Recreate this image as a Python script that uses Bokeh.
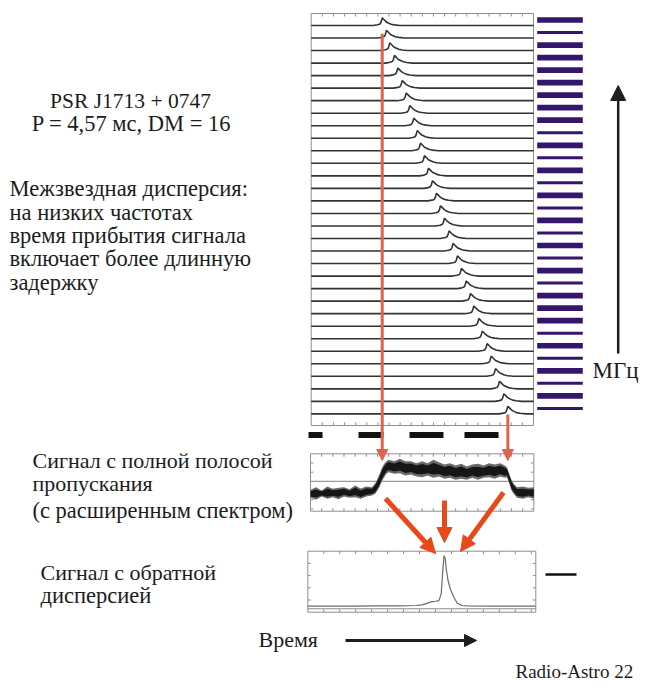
import numpy as np
from bokeh.plotting import figure
from bokeh.models import Range1d, Arrow, NormalHead
from bokeh.core.properties import value
from bokeh.embed import file_html
from bokeh.resources import INLINE

W, H = 645, 690
SERIF = value("Liberation Serif")

# ---------------- data ----------------
# Pulse arrival (phase bin, 0..200 across one period) for each of the 32 channels,
# highest frequency channel first.
peak_bin = [63.9, 67.7, 70.7, 74.9, 77.9, 81.9, 85.5, 88.7, 92.3, 95.4,
            98.3, 101.9, 105.5, 109.1, 112.7, 116.3, 119.9, 124.0, 127.6, 131.6,
            135.2, 139.5, 143.3, 146.3, 150.8, 153.9, 158.3, 161.9, 165.8, 169.4,
            173.3, 176.9]
# 1 = full channel, 0 = partly flagged channel (narrow marker)
channel_weight = [1, 0, 1, 1, 1, 1, 1, 1, 1, 0, 1, 0, 1, 0, 1, 0,
                  1, 0, 1, 0, 1, 0, 1, 1, 1, 0, 1, 0, 1, 0, 1, 0]
# Single-channel pulse template: offset from peak (bins) and amplitude (channel spacings)
pulse_offset = [-8, -4, -2, -1, 0, 1.5, 3, 4.5, 6, 8, 11, 16]
pulse_amp = [0.0, 0.06, 0.12, 0.28, 0.61, 0.48, 0.34, 0.24, 0.18, 0.10, 0.05, 0.0]

# Full-band (undedispersed) signal: noise envelope vs phase bin
band_bin = [0, 5, 10, 15, 20, 25, 30, 35, 40, 45, 50, 55, 58, 60, 62, 64, 66, 68,
            70, 75, 80, 85, 90, 95, 100, 105, 110, 115, 120, 125, 130, 135, 140,
            145, 150, 155, 160, 165, 170, 174, 176, 178, 180, 182, 185, 190, 195, 200]
band_upper = [37.2, 41.9, 36.0, 43.0, 39.0, 40.7, 41.9, 38.4, 44.8, 39.5, 43.0, 41.9,
              48.8, 56.4, 65.1, 75.5, 82.5, 87.2, 89.5, 87.2, 91.2, 87.2, 87.2, 83.7,
              87.2, 83.7, 89.5, 85.4, 81.4, 83.7, 79.6, 82.5, 77.9, 81.4, 82.5, 79.6,
              83.7, 81.4, 83.7, 79.6, 76.7, 65.1, 54.6, 47.9, 41.9, 43.0, 40.7, 41.9]
band_lower = [23.3, 19.8, 25.6, 21.5, 24.4, 21.0, 25.6, 23.3, 24.4, 21.5, 25.6, 27.3,
              30.3, 36.0, 43.0, 52.3, 59.3, 65.1, 68.0, 65.1, 66.3, 62.2, 64.0, 60.4,
              59.3, 62.2, 58.1, 60.4, 56.4, 58.1, 54.6, 56.4, 54.6, 58.1, 54.6, 58.1,
              59.3, 56.4, 60.4, 58.1, 59.3, 48.8, 36.0, 30.3, 23.3, 21.5, 24.4, 21.5]
band_ref = 52

# Dedispersed profile
profile_bin = [0, 20, 40, 60, 80, 95, 100, 104, 108, 112, 115, 117, 118.5, 119.5,
               120.5, 121.5, 123, 125, 128, 131, 135, 140, 160, 180, 200]
profile_flux = [10, 10, 10, 10.5, 10.5, 11, 12, 14, 17, 18, 19, 30, 70, 93,
                88, 70, 52, 38, 25, 15, 11, 10.5, 10, 10, 10]
profile_ref = 5.6

# ---------------- canvas ----------------
p = figure(width=W, height=H, x_range=Range1d(0, W), y_range=Range1d(H, 0),
           x_axis_type=None, y_axis_type=None, output_backend="svg",
           toolbar_location=None, min_border=0)
p.grid.visible = False
p.outline_line_color = None
p.background_fill_color = "white"


def add_panel(name, px_x, data_x, px_y, data_y):
    """Register x/y ranges so that data_x/data_y land on the given pixel spans."""
    (pa, pb), (a, b) = px_x, data_x
    sx = (b - a) / (pb - pa)
    p.extra_x_ranges[name] = Range1d(a - pa * sx, b + (W - pb) * sx)
    (qa, qb), (c, d) = px_y, data_y          # qa: lower pixel row (bottom), qb: upper
    sy = (d - c) / (qa - qb)
    p.extra_y_ranges[name] = Range1d(c - (H - qa) * sy, d + qb * sy)
    return sx, sy


FRAME = "#8f8f8f"
TRACE = "#333333"


def frame_ticks(name, x0, x1, y0, y1, xt, yt, tx, ty):
    p.quad(left=[x0], right=[x1], bottom=[y0], top=[y1], fill_color=None,
           line_color=FRAME, line_width=1, x_range_name=name, y_range_name=name)
    xs0, ys0, xs1, ys1 = [], [], [], []
    for t in xt:
        xs0 += [t, t]; xs1 += [t, t]
        ys0 += [y1, y0]; ys1 += [y1 - ty, y0 + ty]
    for t in yt:
        xs0 += [x0, x1]; xs1 += [x0 + tx, x1 - tx]
        ys0 += [t, t]; ys1 += [t, t]
    p.segment(x0=xs0, y0=ys0, x1=xs1, y1=ys1, line_color=FRAME, line_width=1,
              x_range_name=name, y_range_name=name)


# ---- waterfall of channels ----
n = len(peak_bin)
sx, sy = add_panel("wf", (310.7, 533.0), (0, 200), (413.4, 25.0), (-(n - 1), 0))
wf_top, wf_bot = 12.0 * sy, -(n - 1) - 11.6 * sy
frame_ticks("wf", 0, 200, wf_bot, wf_top, list(range(10, 200, 10)), [],
            3 * sx, 3 * sy)
xs, ys = [], []
for k, pk in enumerate(peak_bin):
    tx = [0] + [pk + o for o in pulse_offset] + [200]
    ty = [-k] + [-k + a for a in pulse_amp] + [-k]
    xs.append(tx); ys.append(ty)
p.multi_line(xs=xs, ys=ys, line_color=TRACE, line_width=1.6,
             x_range_name="wf", y_range_name="wf")

# channel markers (right side)
rows = [-k + 0.44 for k in range(n)]
heights = [(5.7 if w else 3.0) * sy for w in channel_weight]
p.hbar(y=rows, left=536.7, right=582.3, height=heights, fill_color="#34176c",
       line_color=None, y_range_name="wf")

# first / last arrival markers
RED = "#e0634b"
for k, y_start in ((0, -0.65), (n - 1, -(n - 1) - 0.05)):
    p.add_layout(Arrow(x_start=peak_bin[k], y_start=y_start, x_end=peak_bin[k],
                       y_end=-(460 - 25) * sy, line_color=RED, line_width=3,
                       end=NormalHead(size=11, fill_color=RED, line_color=RED),
                       x_range_name="wf", y_range_name="wf"))

# dashed rule below the waterfall
for a, b in ((308, 322), (358, 383), (409, 443), (464, 498)):
    p.quad(left=[a], right=[b], top=[431.5], bottom=[437.5], fill_color="#111111",
           line_color=None)

# ---- full-band signal ----
sx2, sy2 = add_panel("mid", (310.0, 533.3), (0, 200), (510.7, 453.3), (0, 100))
frame_ticks("mid", 0, 200, 0, 100, list(range(10, 200, 10)),
            [4, 20, 36, 68, 84], 3 * sx2, 3 * sy2)
p.line(x=[0, 200], y=[band_ref, band_ref], line_color="#9a9a9a", line_width=1.2,
       x_range_name="mid", y_range_name="mid")
bu, bl = np.array(band_upper), np.array(band_lower)
mid = (bu + bl) / 2
p.varea(x=band_bin, y1=band_lower, y2=band_upper, fill_color="#6a6a6a",
        x_range_name="mid", y_range_name="mid")
p.varea(x=band_bin, y1=mid - 0.32 * (bu - bl), y2=mid + 0.32 * (bu - bl),
        fill_color="#161616", x_range_name="mid", y_range_name="mid")

# ---- dedispersed profile ----
sx3, sy3 = add_panel("ded", (307.3, 535.3), (0, 200), (611.7, 550.7), (0, 100))
frame_ticks("ded", 0, 200, 0, 100, list(range(14, 200, 14)),
            [20, 40, 60, 80], 3 * sx3, 3 * sy3)
p.line(x=[0, 200], y=[profile_ref, profile_ref], line_color="#8a8a8a", line_width=1,
       x_range_name="ded", y_range_name="ded")
p.line(x=profile_bin, y=profile_flux, line_color="#6a6a6a", line_width=1.2,
       x_range_name="ded", y_range_name="ded")

# ---- arrows joining the panels ----
ORANGE = "#e8491b"
for (xa, ya, xb, yb) in ((385, 498, 435, 553), (444, 500, 444, 542), (503, 492, 460, 551)):
    p.add_layout(Arrow(x_start=xa, y_start=ya, x_end=xb, y_end=yb, line_color=ORANGE,
                       line_width=5, end=NormalHead(size=15, fill_color=ORANGE,
                                                    line_color=ORANGE)))

# frequency axis arrow and time arrow
p.add_layout(Arrow(x_start=617.7, y_start=353, x_end=617.7, y_end=85,
                   line_color="#1e1e1e", line_width=2.5,
                   end=NormalHead(size=15, fill_color="#1e1e1e", line_color="#1e1e1e")))
p.add_layout(Arrow(x_start=345, y_start=640, x_end=476, y_end=640,
                   line_color="#1e1e1e", line_width=3,
                   end=NormalHead(size=12, fill_color="#1e1e1e", line_color="#1e1e1e")))
p.segment(x0=[545], y0=[574], x1=[576], y1=[574], line_color="#111111", line_width=2.5)

# ---- texts ----
texts = [
    ("PSR J1713 + 0747", 130, 100, "21.5px", "center"),
    ("P = 4,57 мс, DM = 16", 131, 122.5, "22.5px", "center"),
    ("Межзвездная дисперсия:", 9, 188, "22.5px", "left"),
    ("на низких частотах", 9, 211.5, "22.5px", "left"),
    ("время прибытия сигнала", 9, 235, "22.5px", "left"),
    ("включает более длинную", 9, 258, "22.5px", "left"),
    ("задержку", 9, 281.5, "22.5px", "left"),
    ("Сигнал с полной полосой", 32, 459.5, "22px", "left"),
    ("пропускания", 32, 483, "22px", "left"),
    ("(с расширенным спектром)", 32, 510, "22.5px", "left"),
    ("Сигнал с обратной", 40, 572, "22px", "left"),
    ("дисперсией", 40, 594.5, "22.5px", "left"),
    ("Время", 258, 638.5, "22px", "left"),
    ("МГц", 592, 370, "23px", "left"),
    ("Radio-Astro 22", 515, 670.5, "19px", "left"),
]
for t, x, y, size, align in texts:
    p.text(x=[x], y=[y], text=[t], text_font=SERIF, text_font_size=size,
           text_align=align, text_baseline="alphabetic", text_color="#1c1c1c")

open("out.html", "w").write(file_html(p, INLINE))
